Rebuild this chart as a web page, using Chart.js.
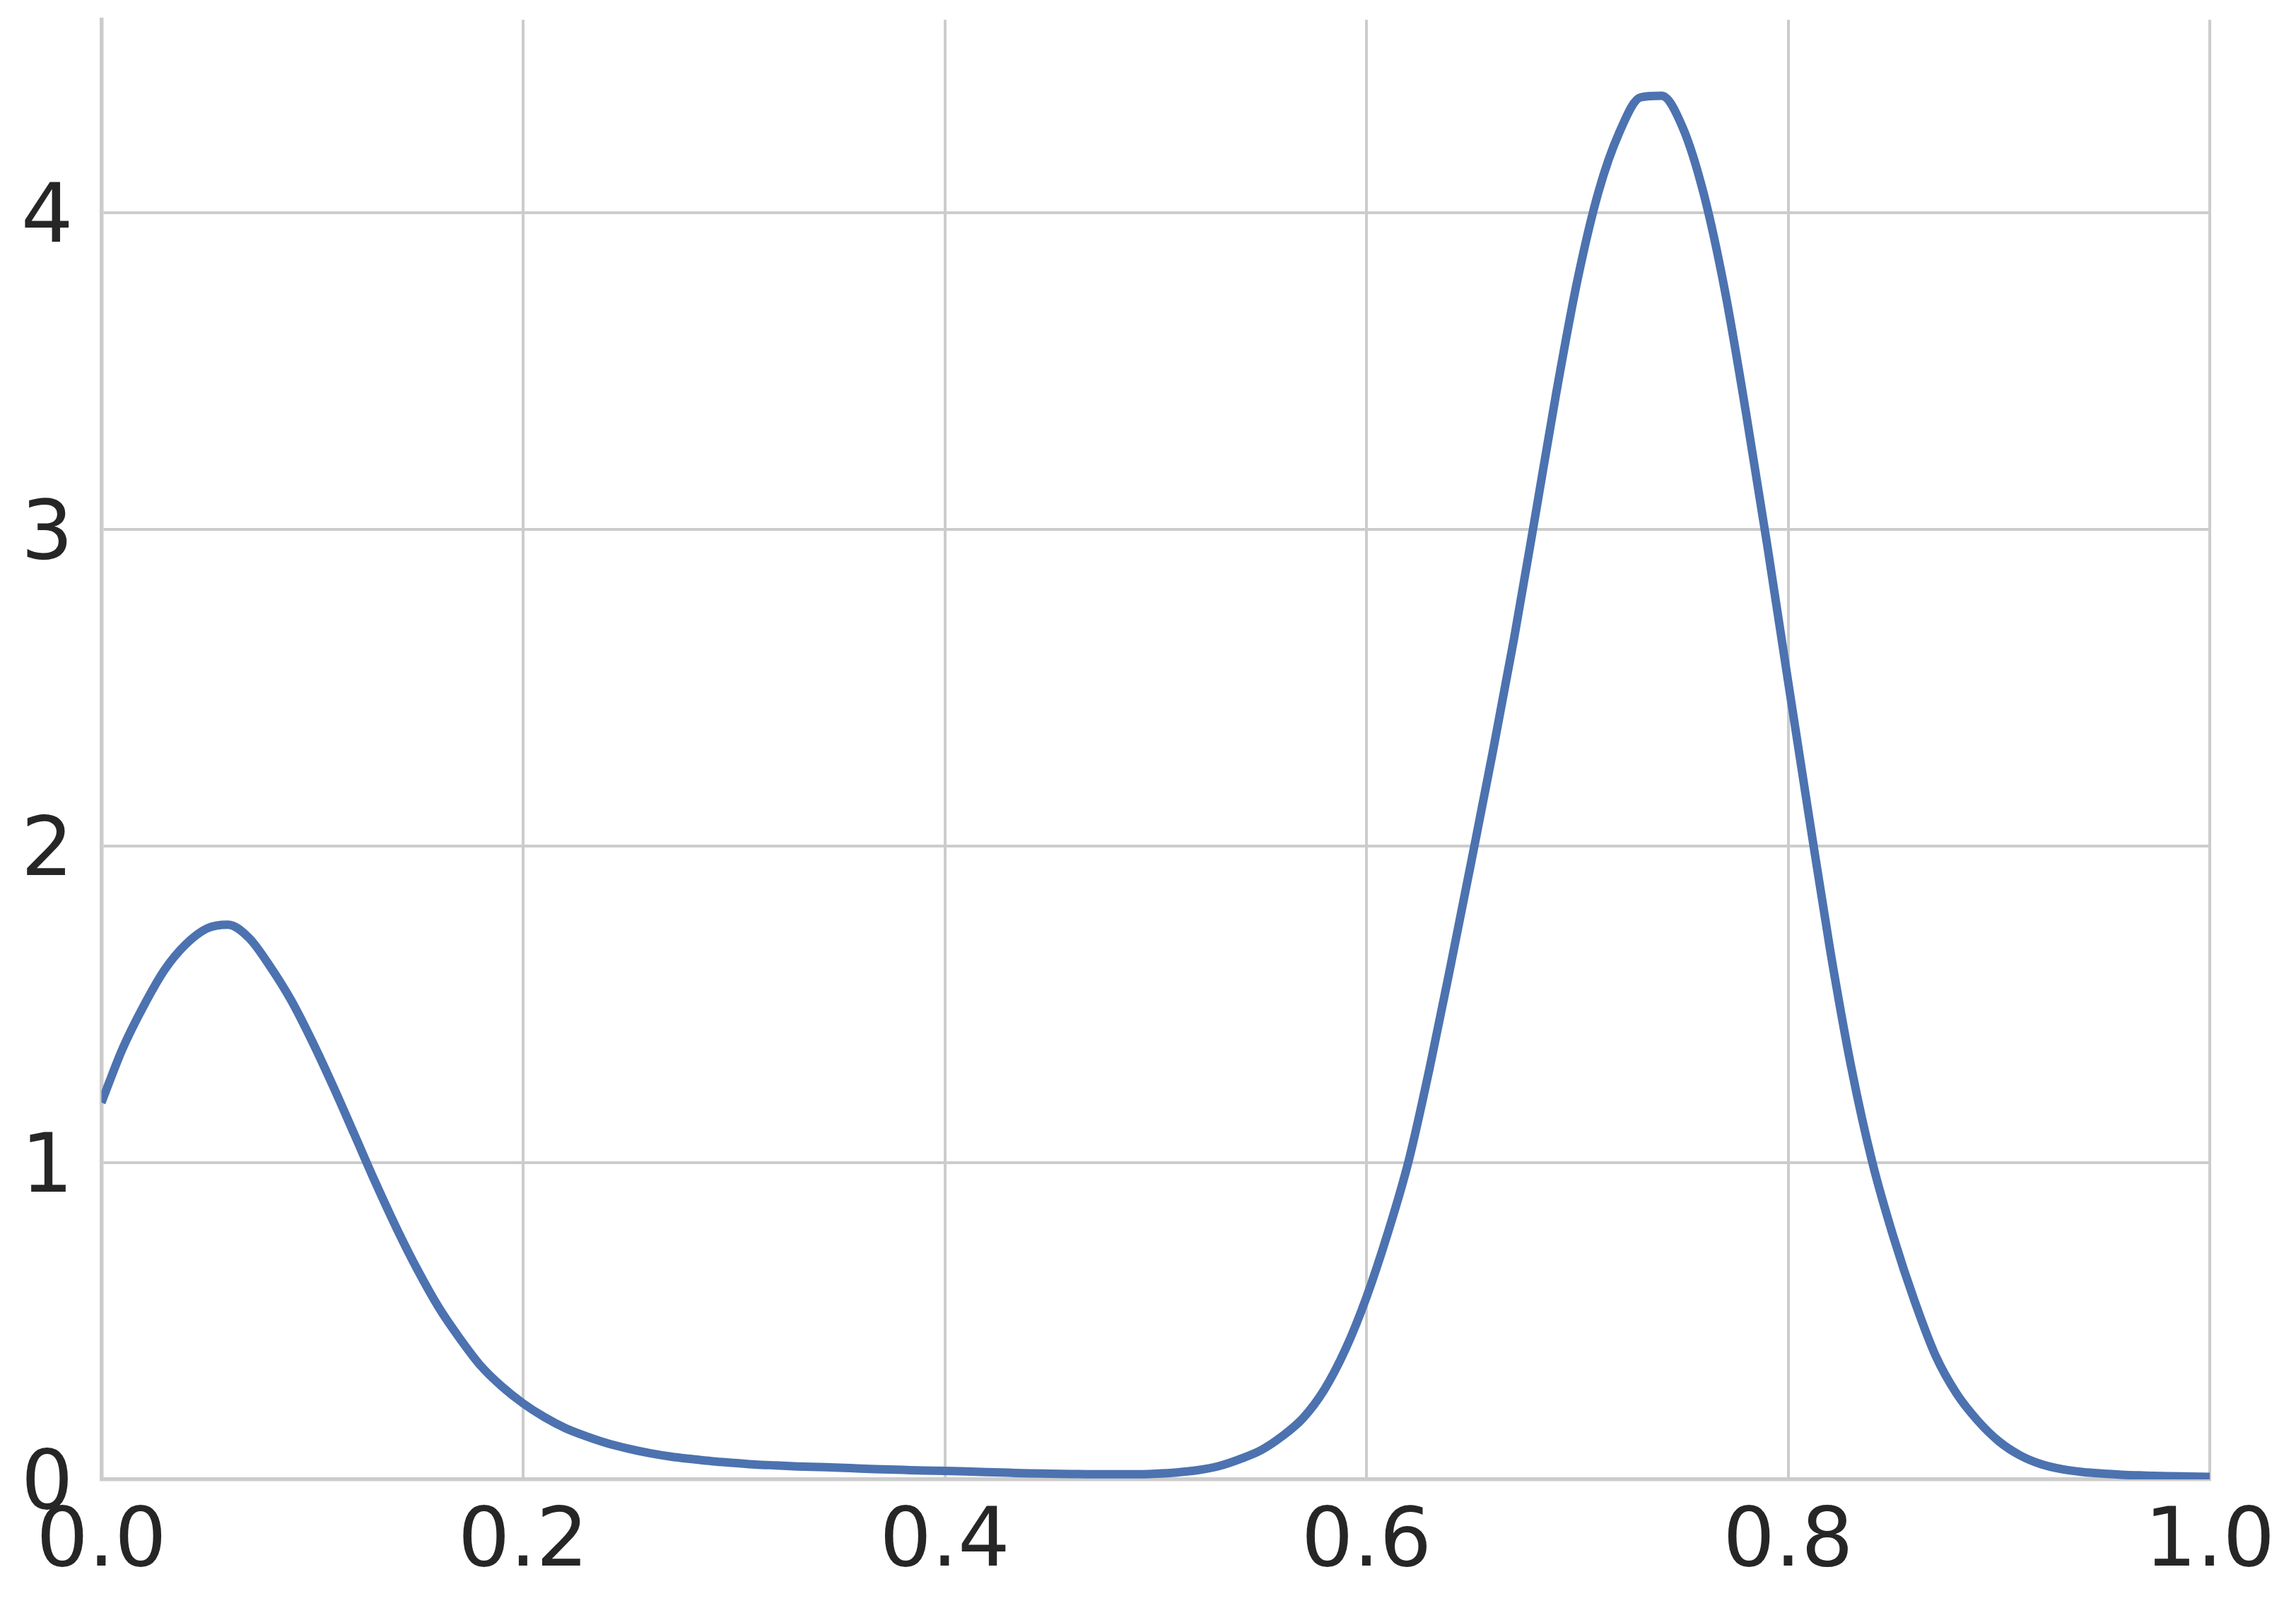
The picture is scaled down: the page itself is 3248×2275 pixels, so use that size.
<!DOCTYPE html>
<html>
<head>
<meta charset="utf-8">
<script src="https://cdn.jsdelivr.net/npm/chart.js@4"></script>
<style>
    html, body { margin: 0; padding: 0; background: #ffffff; }
    canvas { display: block; }
</style>
</head>
<body>
<canvas id="myChart" width="3248" height="2275"></canvas>
<script>
// x positions of the curve samples
const xValues = [
    0.00, 0.01, 0.02, 0.03, 0.04, 0.05, 0.06, 0.07, 0.08, 0.09,
    0.10, 0.11, 0.12, 0.13, 0.14, 0.15, 0.16, 0.17, 0.18, 0.19,
    0.20, 0.21, 0.22, 0.23, 0.24, 0.25, 0.26, 0.27, 0.28, 0.29,
    0.30, 0.31, 0.32, 0.33, 0.34, 0.35, 0.36, 0.37, 0.38, 0.39,
    0.40, 0.41, 0.42, 0.43, 0.44, 0.45, 0.46, 0.47, 0.48, 0.49,
    0.50, 0.51, 0.52, 0.53, 0.54, 0.55, 0.56, 0.57, 0.58, 0.59,
    0.60, 0.61, 0.62, 0.63, 0.64, 0.65, 0.66, 0.67, 0.68, 0.69,
    0.70, 0.71, 0.72, 0.73, 0.74, 0.75, 0.76, 0.77, 0.78, 0.79,
    0.80, 0.81, 0.82, 0.83, 0.84, 0.85, 0.86, 0.87, 0.88, 0.89,
    0.90, 0.91, 0.92, 0.93, 0.94, 0.95, 0.96, 0.97, 0.98, 0.99,
    1.00
];

// density
const density = [
    1.19, 1.36, 1.495, 1.61, 1.69, 1.74, 1.752, 1.71, 1.62, 1.513,
    1.383, 1.24, 1.089, 0.937, 0.793, 0.661, 0.543, 0.445, 0.358, 0.293,
    0.24, 0.197, 0.162, 0.136, 0.114, 0.097, 0.083, 0.072, 0.064, 0.057,
    0.052, 0.047, 0.044, 0.041, 0.039, 0.037, 0.034, 0.032, 0.030, 0.028,
    0.027, 0.025, 0.023, 0.021, 0.019, 0.018, 0.017, 0.016, 0.016, 0.016,
    0.018, 0.022, 0.029, 0.042, 0.064, 0.092, 0.136, 0.194, 0.283, 0.41,
    0.575, 0.775, 1.005, 1.30, 1.625, 1.96, 2.30, 2.655, 3.04, 3.43,
    3.785, 4.065, 4.255, 4.365, 4.37, 4.27, 4.06, 3.755, 3.37, 2.955,
    2.52, 2.09, 1.67, 1.30, 1.00, 0.765, 0.563, 0.39, 0.27, 0.185,
    0.12, 0.076, 0.048, 0.032, 0.023, 0.018, 0.014, 0.012, 0.010, 0.009,
    0.008
];

const xTicks = [0.0, 0.2, 0.4, 0.6, 0.8, 1.0];
const yTicks = [0, 1, 2, 3, 4];

const gridColor = '#cccccc';
const textColor = '#262626';
const tickFont = { family: 'DejaVu Sans', size: 116 };

let myChart;

function createChart() {
    const ctx = document.getElementById('myChart').getContext('2d');

    const points = xValues.map((x, i) => ({ x: x, y: density[i] }));

    myChart = new Chart(ctx, {
        type: 'line',
        data: {
            datasets: [{
                data: points,
                borderColor: '#4c72b0',
                borderWidth: 12,
                pointRadius: 0,
                fill: false,
                cubicInterpolationMode: 'monotone',
                clip: 0
            }]
        },
        options: {
            responsive: false,
            devicePixelRatio: 1,
            animation: false,
            layout: {
                padding: { top: 28, right: 122, left: 0, bottom: 0 }
            },
            plugins: {
                legend: { display: false },
                tooltip: { enabled: false }
            },
            scales: {
                x: {
                    type: 'linear',
                    min: 0,
                    max: 1,
                    afterFit: (scale) => {
                        scale.height = 182;
                        scale.paddingLeft = 0;
                        scale.paddingRight = 0;
                    },
                    afterBuildTicks: (scale) => {
                        scale.ticks = xTicks.map(v => ({ value: v }));
                    },
                    ticks: {
                        color: textColor,
                        font: tickFont,
                        padding: 22,
                        maxRotation: 0,
                        autoSkip: false,
                        callback: (value) => Number(value).toFixed(1)
                    },
                    grid: {
                        color: gridColor,
                        lineWidth: 4,
                        drawTicks: false
                    },
                    border: {
                        color: gridColor,
                        width: 5.5
                    }
                },
                y: {
                    min: 0,
                    max: 4.61,
                    afterFit: (scale) => {
                        scale.width = 143.5;
                        scale.paddingTop = 0;
                        scale.paddingBottom = 0;
                    },
                    afterBuildTicks: (scale) => {
                        scale.ticks = yTicks.map(v => ({ value: v }));
                    },
                    ticks: {
                        color: textColor,
                        font: tickFont,
                        padding: 40,
                        labelOffset: 11,
                        autoSkip: false,
                        callback: (value) => String(value)
                    },
                    grid: {
                        color: gridColor,
                        lineWidth: 4,
                        drawTicks: false
                    },
                    border: {
                        color: gridColor,
                        width: 5.5
                    }
                }
            }
        }
    });
}

createChart();
</script>
</body>
</html>
